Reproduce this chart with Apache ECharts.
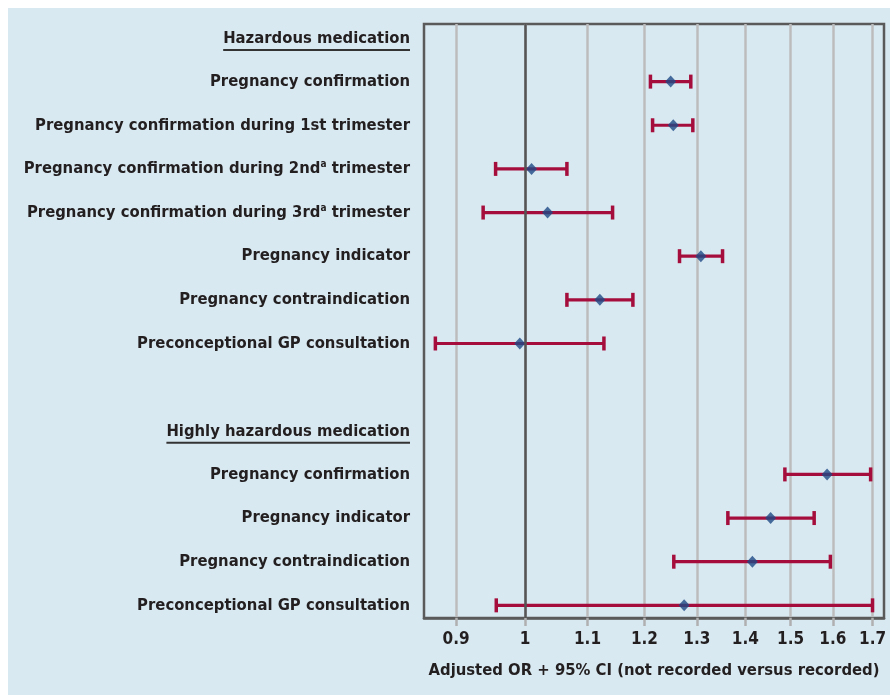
<!DOCTYPE html>
<html><head><meta charset="utf-8">
<script src="https://cdn.jsdelivr.net/npm/echarts@6/dist/echarts.min.js"></script>
<style>html,body{margin:0;padding:0;background:#fff;} #c{position:absolute;left:8px;top:8px;width:882px;height:687px;}</style>
</head><body><div id="c"></div>
<script>
// Row labels (top to bottom); '' = blank spacer row
const categories = [
  'Hazardous medication',
  'Pregnancy confirmation',
  'Pregnancy confirmation during 1st trimester',
  'Pregnancy confirmation during 2nd^a trimester',
  'Pregnancy confirmation during 3rd^a trimester',
  'Pregnancy indicator',
  'Pregnancy contraindication',
  'Preconceptional GP consultation',
  '',
  'Highly hazardous medication',
  'Pregnancy confirmation',
  'Pregnancy indicator',
  'Pregnancy contraindication',
  'Preconceptional GP consultation'
];
const headerRows = [0, 9];
const orValues = [null, 1.249, 1.254, 1.010, 1.035, 1.308, 1.121, 0.992, null, null, 1.586, 1.455, 1.415, 1.275];
const ciLower  = [null, 1.211, 1.215, 0.956, 0.938, 1.266, 1.066, 0.872, null, null, 1.487, 1.363, 1.255, 0.957];
const ciUpper  = [null, 1.288, 1.292, 1.066, 1.143, 1.352, 1.179, 1.128, null, null, 1.695, 1.555, 1.594, 1.700];
const xTicks = [0.9, 1, 1.1, 1.2, 1.3, 1.4, 1.5, 1.6, 1.7];
const xTickLabels = ['0.9', '1', '1.1', '1.2', '1.3', '1.4', '1.5', '1.6', '1.7'];
const xMin = 0.857, xMax = 1.730;
const axisTitle = 'Adjusted OR + 95% CI (not recorded versus recorded)';

const FONT = 'DejaVu Sans Condensed';
const TEXT = '#231f20';
const RED = '#a50e3c';
const BLUE = '#1e4a86';
const FS = 16.5;

function textWidth(t, size) {
  const c = document.createElement('canvas').getContext('2d');
  c.font = 'bold ' + size + 'px "' + FONT + '"';
  return c.measureText(t).width;
}

const errData = [], ptData = [];
categories.forEach((c, i) => {
  if (orValues[i] != null) {
    errData.push([Math.log(ciLower[i]), Math.log(ciUpper[i]), i]);
    ptData.push([Math.log(orValues[i]), i]);
  }
});
const labelRows = categories.map((c, i) => i).filter(i => categories[i] !== '');
const rich = {
  h: { fontFamily: FONT, fontWeight: 'bold', fontSize: FS, color: TEXT, lineHeight: 24, padding: [4, 0, 0, 0] },
  s: { fontFamily: FONT, fontWeight: 'bold', fontSize: 10, color: TEXT, padding: [0, 0, 8, 0] }
};
headerRows.forEach((r, k) => {
  rich['u' + k] = { width: textWidth(categories[r], FS), height: 2, lineHeight: 2, backgroundColor: '#333' };
});

const chart = echarts.init(document.getElementById('c'));
chart.setOption({
  backgroundColor: '#d9e9f1',
  animation: false,
  grid: { left: 416, top: 16, width: 460, height: 594, show: true, borderColor: '#5a5a5a', borderWidth: 2.5, backgroundColor: 'transparent' },
  xAxis: {
    type: 'value', min: Math.log(xMin), max: Math.log(xMax),
    axisLine: { show: true, onZero: false, lineStyle: { color: '#5a5a5a', width: 2.5 } },
    axisTick: { show: true, length: 8, customValues: xTicks.map(Math.log), lineStyle: { color: '#b0b0b0', width: 2.5 } },
    splitLine: { show: true, lineStyle: { color: '#bcbcbc', width: 2.5 } },
    axisLabel: {
      customValues: xTicks.map(Math.log), margin: 13,
      fontFamily: FONT, fontWeight: 'bold', fontSize: 17, color: TEXT,
      formatter: v => {
        let best = 0;
        xTicks.forEach((t, k) => { if (Math.abs(Math.log(t) - v) < Math.abs(Math.log(xTicks[best]) - v)) best = k; });
        return xTickLabels[best];
      }
    },
    name: axisTitle, nameLocation: 'middle', nameGap: 44,
    nameTextStyle: { fontFamily: FONT, fontWeight: 'bold', fontSize: FS, color: TEXT }
  },
  yAxis: {
    type: 'value', inverse: true, min: -0.32, max: 13.29,
    axisLine: { show: false, onZero: false }, axisTick: { show: false }, splitLine: { show: false },
    axisLabel: {
      customValues: labelRows, margin: 14,
      fontFamily: FONT, fontWeight: 'bold', fontSize: FS, color: TEXT,
      rich: rich,
      formatter: v => {
        const i = Math.round(v);
        const t = categories[i];
        const hk = headerRows.indexOf(i);
        if (hk >= 0) return '{h|' + t + '}\n{u' + hk + '|}';
        return t.replace('^a', '{s|a}');
      }
    }
  },
  series: [
    {
      type: 'scatter', data: [], z: 1, silent: true,
      markLine: { silent: true, symbol: 'none', label: { show: false },
        lineStyle: { color: '#555', width: 2.5, type: 'solid' },
        data: [{ xAxis: Math.log(1) }] }
    },
    {
      type: 'custom', z: 3, data: errData, encode: { x: [0, 1], y: 2 },
      renderItem: (params, api) => {
        const a = api.coord([api.value(0), api.value(2)]);
        const b = api.coord([api.value(1), api.value(2)]);
        const h = 7;
        const st = { stroke: RED, lineWidth: 3.2 };
        return { type: 'group', children: [
          { type: 'line', shape: { x1: a[0], y1: a[1], x2: b[0], y2: b[1] }, style: st },
          { type: 'line', shape: { x1: a[0], y1: a[1] - h, x2: a[0], y2: a[1] + h }, style: { stroke: RED, lineWidth: 3.5 } },
          { type: 'line', shape: { x1: b[0], y1: b[1] - h, x2: b[0], y2: b[1] + h }, style: { stroke: RED, lineWidth: 3.5 } }
        ] };
      }
    },
    {
      type: 'scatter', z: 4, data: ptData, symbol: 'diamond', symbolSize: [11, 12],
      itemStyle: { color: BLUE }
    }
  ]
});
</script></body></html>
